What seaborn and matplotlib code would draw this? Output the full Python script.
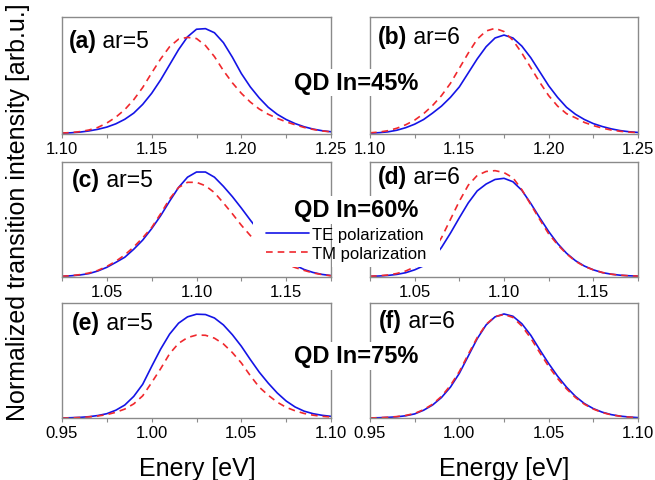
import matplotlib
matplotlib.use("Agg")
import matplotlib.pyplot as plt
from matplotlib.lines import Line2D
from matplotlib.patches import Rectangle
from matplotlib.ticker import MultipleLocator
import seaborn as sns

sns.set_style("white")
plt.rcParams['font.family'] = ['Liberation Sans', 'DejaVu Sans']
plt.rcParams['text.color'] = 'black'
plt.rcParams['xtick.labelcolor'] = 'black'

# energy grids (eV) for the three In contents
energy_45 = [1.100, 1.105, 1.110, 1.115, 1.120, 1.125, 1.130, 1.135, 1.140, 1.145, 1.150,
             1.155, 1.160, 1.165, 1.170, 1.175, 1.180, 1.185, 1.190, 1.195, 1.200, 1.205,
             1.210, 1.215, 1.220, 1.225, 1.230, 1.235, 1.240, 1.245, 1.250]
energy_60 = [1.025, 1.030, 1.035, 1.040, 1.045, 1.050, 1.055, 1.060, 1.065, 1.070, 1.075,
             1.080, 1.085, 1.090, 1.095, 1.100, 1.105, 1.110, 1.115, 1.120, 1.125, 1.130,
             1.135, 1.140, 1.145, 1.150, 1.155, 1.160, 1.165, 1.170, 1.175]
energy_75 = [0.950, 0.955, 0.960, 0.965, 0.970, 0.975, 0.980, 0.985, 0.990, 0.995, 1.000,
             1.005, 1.010, 1.015, 1.020, 1.025, 1.030, 1.035, 1.040, 1.045, 1.050, 1.055,
             1.060, 1.065, 1.070, 1.075, 1.080, 1.085, 1.090, 1.095, 1.100]

# (a) In=45%, ar=5
te_a = [0.003, 0.006, 0.012, 0.022, 0.036, 0.055, 0.083, 0.122, 0.175, 0.25, 0.345,
        0.46, 0.59, 0.72, 0.83, 0.895, 0.9, 0.865, 0.78, 0.655, 0.515, 0.40,
        0.305, 0.225, 0.165, 0.12, 0.085, 0.058, 0.038, 0.024, 0.015]
tm_a = [0.004, 0.008, 0.016, 0.03, 0.052, 0.09, 0.14, 0.205, 0.29, 0.395, 0.52,
        0.64, 0.745, 0.81, 0.825, 0.815, 0.755, 0.66, 0.54, 0.435, 0.345, 0.27,
        0.21, 0.165, 0.13, 0.1, 0.075, 0.052, 0.035, 0.022, 0.014]
# (b) In=45%, ar=6
te_b = [0.003, 0.007, 0.014, 0.028, 0.05, 0.08, 0.12, 0.175, 0.235, 0.31, 0.40,
        0.52, 0.64, 0.745, 0.82, 0.845, 0.82, 0.75, 0.65, 0.53, 0.41, 0.31,
        0.225, 0.165, 0.12, 0.085, 0.06, 0.04, 0.025, 0.015, 0.009]
tm_b = [0.006, 0.012, 0.024, 0.045, 0.075, 0.115, 0.17, 0.24, 0.325, 0.43, 0.56,
        0.69, 0.81, 0.88, 0.903, 0.875, 0.8, 0.69, 0.565, 0.44, 0.325, 0.235,
        0.17, 0.135, 0.095, 0.068, 0.046, 0.03, 0.019, 0.012, 0.007]
# (c) In=60%, ar=5
te_c = [0.003, 0.008, 0.015, 0.027, 0.05, 0.082, 0.125, 0.17, 0.24, 0.32, 0.42,
        0.533, 0.66, 0.78, 0.87, 0.915, 0.915, 0.87, 0.79, 0.70, 0.6, 0.495,
        0.395, 0.3, 0.22, 0.155, 0.1, 0.063, 0.037, 0.02, 0.01]
tm_c = [0.004, 0.009, 0.018, 0.032, 0.055, 0.09, 0.135, 0.19, 0.26, 0.34, 0.43,
        0.55, 0.68, 0.78, 0.825, 0.825, 0.795, 0.735, 0.645, 0.55, 0.45, 0.36,
        0.28, 0.21, 0.155, 0.11, 0.08, 0.055, 0.033, 0.018, 0.008]
# (d) In=60%, ar=6
te_d = [0.003, 0.006, 0.011, 0.02, 0.035, 0.06, 0.095, 0.155, 0.255, 0.38, 0.515,
        0.645, 0.75, 0.81, 0.85, 0.86, 0.83, 0.755, 0.64, 0.515, 0.395, 0.29,
        0.205, 0.14, 0.093, 0.06, 0.036, 0.022, 0.013, 0.008, 0.005]
tm_d = [0.004, 0.008, 0.015, 0.028, 0.05, 0.085, 0.14, 0.22, 0.34, 0.5, 0.66,
        0.8, 0.885, 0.92, 0.927, 0.91, 0.865, 0.76, 0.63, 0.5, 0.375, 0.28,
        0.2, 0.135, 0.09, 0.06, 0.037, 0.022, 0.013, 0.008, 0.005]
# (e) In=75%, ar=5
te_e = [0.003, 0.005, 0.008, 0.014, 0.024, 0.04, 0.07, 0.115, 0.19, 0.295, 0.45,
        0.6, 0.73, 0.825, 0.88, 0.903, 0.9, 0.87, 0.81, 0.725, 0.625, 0.51,
        0.4, 0.305, 0.22, 0.15, 0.098, 0.062, 0.04, 0.026, 0.017]
tm_e = [0.002, 0.004, 0.007, 0.012, 0.02, 0.032, 0.052, 0.08, 0.125, 0.195, 0.31,
        0.43, 0.56, 0.65, 0.7, 0.722, 0.72, 0.695, 0.645, 0.57, 0.48, 0.37,
        0.27, 0.2, 0.14, 0.095, 0.065, 0.042, 0.027, 0.017, 0.011]
# (f) In=75%, ar=6
te_f = [0.003, 0.005, 0.008, 0.013, 0.022, 0.038, 0.07, 0.115, 0.18, 0.27, 0.39,
        0.54, 0.69, 0.81, 0.88, 0.905, 0.885, 0.82, 0.72, 0.595, 0.475, 0.365,
        0.27, 0.19, 0.128, 0.084, 0.053, 0.032, 0.019, 0.011, 0.006]
tm_f = [0.003, 0.005, 0.009, 0.015, 0.025, 0.042, 0.075, 0.122, 0.19, 0.285, 0.405,
        0.555, 0.7, 0.815, 0.882, 0.9, 0.875, 0.8, 0.695, 0.57, 0.45, 0.345,
        0.255, 0.18, 0.122, 0.08, 0.05, 0.03, 0.018, 0.01, 0.006]

panel_labels = ["(a)", "(b)", "(c)", "(d)", "(e)", "(f)"]
ar_labels = ["ar=5", "ar=6", "ar=5", "ar=6", "ar=5", "ar=6"]
qd_labels = ["QD In=45%", "QD In=60%", "QD In=75%"]
xlabels = ["Enery [eV]", "Energy [eV]"]
legend_labels = ["TE polarization", "TM polarization"]

energies = [energy_45, energy_60, energy_75]
te_curves = [te_a, te_b, te_c, te_d, te_e, te_f]
tm_curves = [tm_a, tm_b, tm_c, tm_d, tm_e, tm_f]
xlims = [(1.10, 1.25), (1.025, 1.175), (0.95, 1.10)]
xticks = [[1.10, 1.15, 1.20, 1.25], [1.05, 1.10, 1.15], [0.95, 1.00, 1.05, 1.10]]

blue = "#1414e6"
red = "#f0282d"
frame = "#8a8a8a"
dash = (0, (4, 3))

W, H = 655, 481
fig = plt.figure(figsize=(W / 100, H / 100), dpi=100)

# axes boxes in pixels (left, right) / (top, bottom)
cols_px = [(62, 331), (370, 638)]
rows_px = [(18, 134.5), (163.3, 277.7), (304, 419.3)]
label_pos = [(0.024, 0.80), (0.03, 0.83), (0.038, 0.85),
             (0.028, 0.875), (0.038, 0.83), (0.034, 0.85)]

for r in range(3):
    for c in range(2):
        i = r * 2 + c
        l, rr = cols_px[c]
        t, b = rows_px[r]
        ax = fig.add_axes([l / W, 1 - b / H, (rr - l) / W, (b - t) / H])
        sns.lineplot(x=energies[r], y=te_curves[i], ax=ax, color=blue,
                     linewidth=1.2, legend=False)
        sns.lineplot(x=energies[r], y=tm_curves[i], ax=ax, color=red,
                     linewidth=1.2, linestyle=dash, legend=False)
        ax.set_xlim(*xlims[r])
        ax.set_ylim(0, 1)
        ax.set_yticks([])
        ax.set_xticks(xticks[r])
        ax.set_xticklabels(["%.2f" % v for v in xticks[r]])
        ax.xaxis.set_minor_locator(MultipleLocator(0.025))
        ax.tick_params(axis="x", which="both", direction="out", color=frame,
                       bottom=True, labelsize=12, pad=2.5, length=2.6, width=0.8)
        ax.set_xlabel("")
        ax.set_ylabel("")
        for sp in ax.spines.values():
            sp.set_color(frame)
            sp.set_linewidth(1.0)
        lx, ly = label_pos[i]
        t1 = ax.text(lx, ly, panel_labels[i], transform=ax.transAxes,
                     fontsize=16.5, fontweight="bold", va="center", ha="left")
        ax.annotate(" " + ar_labels[i], xy=(1, 0), xycoords=t1,
                    fontsize=16.5, va="bottom", ha="left")

# In content labels over the gap between columns
qd_y = [83.5, 211, 357]
for lab, yy in zip(qd_labels, qd_y):
    fig.text(356 / W, 1 - yy / H, lab, fontsize=17, fontweight="bold",
             ha="center", va="center", zorder=6,
             bbox=dict(facecolor="white", edgecolor="none", pad=1.5))

# white patches behind the legend hide the curves (the frame of (c) stays visible)
for x0, x1 in [(253, 330.4), (331.6, 440)]:
    fig.add_artist(Rectangle((x0 / W, 1 - 268 / H), (x1 - x0) / W, (268 - 222) / H,
                             transform=fig.transFigure, facecolor="white",
                             edgecolor="none", zorder=4))
handles = [Line2D([], [], color=blue, linewidth=1.2),
           Line2D([], [], color=red, linewidth=1.2, linestyle=dash)]
leg = fig.legend(handles, legend_labels, loc="upper left",
                 bbox_to_anchor=(266 / W, 1 - 228 / H), frameon=False,
                 fontsize=12, handlelength=2.6, handletextpad=0.15,
                 borderpad=0, borderaxespad=0, labelspacing=0.25)
leg.set_zorder(5)

fig.text(0.028, 1 - 212 / H, "Normalized transition intensity [arb.u.]",
         rotation=90, fontsize=18, ha="center", va="center")
fig.text(197 / W, 1 - 476 / H, xlabels[0], fontsize=18, ha="center", va="baseline")
fig.text(504 / W, 1 - 476 / H, xlabels[1], fontsize=18, ha="center", va="baseline")

fig.savefig("out.png", dpi=100)
